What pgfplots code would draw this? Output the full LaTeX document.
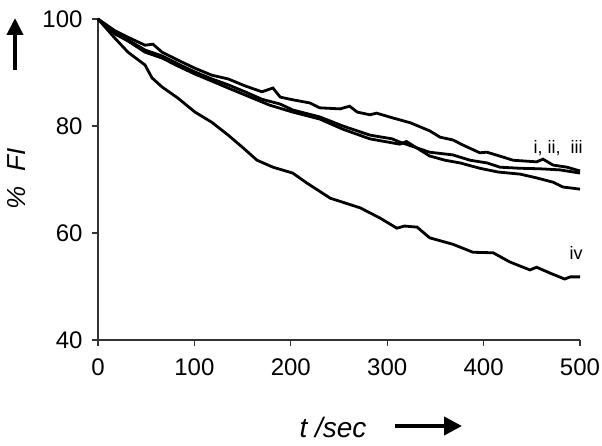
\documentclass[border=0pt]{standalone}
\usepackage{fontspec}
\setmainfont{Liberation Sans}
\usepackage{pgfplots}
\pgfplotsset{compat=1.18}
\usetikzlibrary{arrows.meta}
\begin{document}
\begin{tikzpicture}
\path[use as bounding box] (-98pt,-106pt) rectangle (504pt,340pt);
\begin{axis}[
    at={(0,0)}, anchor=south west,
    scale only axis,
    width=482pt, height=321pt,
    xmin=0, xmax=500, ymin=40, ymax=100,
    axis lines*=left,
    axis line style={black!80, line width=1.1pt},
    xtick={0,100,...,500},
    ytick={40,60,80,100},
    tick align=outside,
    major tick length=6pt,
    tick style={black!80, line width=1.1pt},
    ticklabel style={font=\fontsize{24}{28}\selectfont},
    xticklabel style={yshift=-9pt},
    yticklabel style={xshift=-6pt},
    /pgf/number format/assume math mode=true,
    clip=false,
]
% curve iv
\addplot[black, line width=2.8pt] coordinates {
    (0,100) (17.6,96.4) (31.1,93.8) (48.8,91.4) (56,89.0) (66.4,87.3)
    (83,85.2) (100.6,82.6) (118,80.7) (135,78.3) (150,76.0) (165,73.6)
    (181.5,72.3) (202,71.2) (217,69.3) (241,66.5) (272,64.7) (292.5,62.8)
    (310,60.9) (318,61.3) (331,61.1) (344,59.1) (368,57.9) (389,56.4)
    (410,56.3) (427,54.6) (448,53.1) (455,53.6) (469,52.5) (484,51.4)
    (490,51.8) (500,51.8)
};
% curve A (top in the middle)
\addplot[black, line width=2.8pt] coordinates {
    (0,100) (17.6,97.8) (31,96.6) (48.8,95.1) (57,95.3) (66.4,93.8)
    (83,92.3) (100.6,90.8) (118,89.5) (135,88.8) (152.5,87.5) (170,86.4)
    (181.5,87.1) (189,85.4) (202,84.9) (220,84.3) (230,83.4) (251,83.2)
    (261,83.7) (269,82.6) (282,82.1) (289,82.4) (306,81.5) (324,80.6)
    (344,79.1) (355,77.9) (368,77.4) (379,76.4) (396,75.0) (403.5,75.1)
    (420,74.2) (430.5,73.6) (455,73.3) (461.6,73.8) (472,72.7) (486.5,72.3)
    (500,71.6)
};
% curve B (middle)
\addplot[black, line width=2.8pt] coordinates {
    (0,100) (17.6,97.4) (31,96.1) (48.8,94.2) (66.4,93.1) (83,91.6)
    (100.6,90.1) (118,88.8) (135,87.7) (152.5,86.4) (170,85.0) (189,84.1)
    (202,83.0) (230,81.7) (254,80.0) (282,78.3) (305,77.6) (313,77.0)
    (344,75.1) (368,74.6) (386,73.6) (403.5,73.1) (417,72.3) (438,72.1)
    (458.5,72.0) (479,71.8) (500,71.2)
};
% curve C (lowest at the end)
\addplot[black, line width=2.8pt] coordinates {
    (0,100) (17.6,97.2) (31,95.9) (48.8,93.8) (66.4,92.7) (83,91.2)
    (100.6,89.7) (118,88.4) (135,87.1) (152.5,85.8) (170,84.5) (178,83.9)
    (202,82.6) (230,81.3) (254,79.4) (282,77.6) (313,76.6) (320,77.1)
    (344,74.4) (360,73.6) (375.5,73.1) (396,72.1) (415,71.4) (438,71.0)
    (455,70.3) (472,69.5) (482,68.6) (500,68.2)
};
\node[anchor=east, font=\fontsize{18}{21}\selectfont, inner sep=0pt]
    at (axis cs:503,75.9) {i, ii,\ \ iii};
\node[anchor=east, font=\fontsize{18}{21}\selectfont, inner sep=0pt]
    at (axis cs:503,56.3) {iv};
\end{axis}
% axis titles with their arrows
\node[rotate=90, font=\fontsize{26}{30}\selectfont\itshape, inner sep=0pt]
    at (-81pt,161pt) {\%\ \ FI};
\draw[line width=4pt, -{Triangle[length=17pt,width=16pt]}]
    (-83pt,270pt) -- (-83pt,322pt);
\node[font=\fontsize{28}{32}\selectfont\itshape, inner sep=0pt]
    at (235pt,-87pt) {t /sec};
\draw[line width=4pt, -{Triangle[length=18pt,width=18pt]}]
    (297pt,-86pt) -- (364pt,-86pt);
\end{tikzpicture}
\end{document}
